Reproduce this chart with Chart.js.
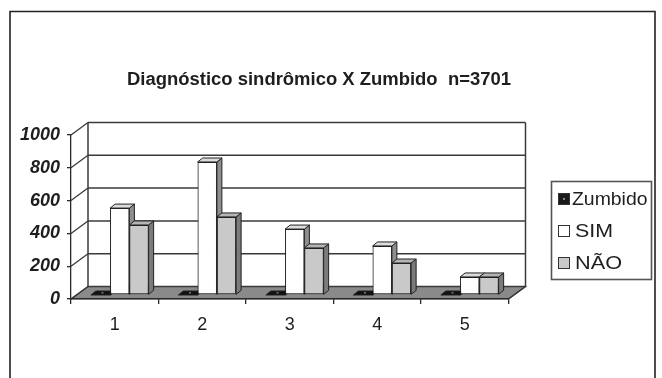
<!DOCTYPE html>
<html>
<head>
<meta charset="utf-8">
<script src="https://cdn.jsdelivr.net/npm/chart.js@4.4.1/dist/chart.umd.min.js"></script>
<style>
html,body{margin:0;padding:0;background:#fff;}
canvas{display:block;}
</style>
</head>
<body>
<canvas id="c" width="662" height="378"></canvas>
<script>
// ---- data ----
const categories = ['1', '2', '3', '4', '5'];
const seriesNames = ['Zumbido', 'SIM', 'NÃO'];
const zumbido = [0, 0, 0, 0, 0];
const sim = [530, 811, 402, 299, 110];
const nao = [427, 476, 287, 195, 110];
const yTicks = [0, 200, 400, 600, 800, 1000];
const titleText = 'Diagnóstico sindrômico X Zumbido  n=3701';

// ---- style ----
const FONT = "'Liberation Sans', Arial, sans-serif";
const LINE = '#2a2a2a';
const WALL_DX = 17, WALL_DY = -12.5;   // depth of the 3D box
const BAR_DX = 5, BAR_DY = -4;         // bar plane offset
const BAR_DEPTH_X = 5, BAR_DEPTH_Y = -4;
const faceColors = [
  {front: '#111', top: '#111', side: '#111'},
  {front: '#ffffff', top: '#dcdcdc', side: '#8e8e8e'},
  {front: '#c9c9c9', top: '#b5b5b5', side: '#7b7b7b'}
];

function poly(ctx, pts, fill, stroke, lw) {
  ctx.beginPath();
  ctx.moveTo(pts[0][0], pts[0][1]);
  for (let i = 1; i < pts.length; i++) ctx.lineTo(pts[i][0], pts[i][1]);
  ctx.closePath();
  if (fill) { ctx.fillStyle = fill; ctx.fill(); }
  if (stroke) { ctx.strokeStyle = stroke; ctx.lineWidth = lw || 1; ctx.stroke(); }
}
function line(ctx, x1, y1, x2, y2, c, w) {
  ctx.beginPath(); ctx.moveTo(x1, y1); ctx.lineTo(x2, y2);
  ctx.strokeStyle = c; ctx.lineWidth = w; ctx.stroke();
}
function fitText(ctx, txt, x, y, font, width, align) {
  ctx.save();
  ctx.font = font;
  const m = ctx.measureText(txt).width;
  const s = width / m;
  ctx.translate(x, y);
  ctx.scale(s, 1);
  ctx.textAlign = align; ctx.textBaseline = 'alphabetic';
  ctx.fillStyle = '#1e1e1e';
  ctx.fillText(txt, 0, 0);
  ctx.restore();
}

const box3d = {
  id: 'box3d',
  beforeDraw(chart) {
    const ctx = chart.ctx, a = chart.chartArea, ys = chart.scales.y;
    ctx.save();
    ctx.fillStyle = '#fff';
    ctx.fillRect(0, 0, chart.width, chart.height);
    // outer frame
    ctx.beginPath();
    ctx.moveTo(10, 380); ctx.lineTo(10, 11.5); ctx.lineTo(655, 11.5); ctx.lineTo(655, 380);
    ctx.strokeStyle = '#222'; ctx.lineWidth = 1.6; ctx.stroke();
    // title
    fitText(ctx, titleText, 319, 84.5, 'bold 18px ' + FONT, 384, 'center');
    // floor
    poly(ctx, [[a.left, a.bottom], [a.right, a.bottom], [a.right + WALL_DX, a.bottom + WALL_DY], [a.left + WALL_DX, a.bottom + WALL_DY]], '#8a8a8a', LINE, 1.2);
    // back wall grid + left wall diagonals
    yTicks.forEach(v => {
      const y = ys.getPixelForValue(v);
      line(ctx, a.left + WALL_DX, y + WALL_DY, a.right + WALL_DX, y + WALL_DY, '#3a3a3a', 1.5);
      line(ctx, a.left, y, a.left + WALL_DX, y + WALL_DY, '#3a3a3a', 1.3);
    });
    line(ctx, a.left + WALL_DX, a.top + WALL_DY, a.left + WALL_DX, a.bottom + WALL_DY, '#3a3a3a', 1.5);
    line(ctx, a.right + WALL_DX, a.top + WALL_DY, a.right + WALL_DX, a.bottom + WALL_DY, '#3a3a3a', 1.5);
    line(ctx, a.right, a.bottom, a.right + WALL_DX, a.bottom + WALL_DY, '#3a3a3a', 1.3);
    // legend
    ctx.fillStyle = '#fff';
    ctx.fillRect(551.5, 181.5, 100, 98);
    ctx.strokeStyle = '#555'; ctx.lineWidth = 1.6;
    ctx.strokeRect(551.5, 181.5, 100, 98);
    const baselines = [205, 237, 269];
    const widths = [75.5, 38, 47];
    chart.data.datasets.forEach((ds, i) => {
      const b = baselines[i];
      ctx.fillStyle = i === 0 ? '#1a1a1a' : ds.backgroundColor;
      ctx.fillRect(558.5, b - 11.5, 11, 11);
      ctx.strokeStyle = '#333'; ctx.lineWidth = 1;
      ctx.strokeRect(558.5, b - 11.5, 11, 11);
      if (i === 0) { ctx.fillStyle = '#888'; ctx.fillRect(563, b - 7, 2, 2); }
      fitText(ctx, ds.label, i === 0 ? 572 : 575, b, '18px ' + FONT, widths[i], 'left');
    });
    ctx.restore();
  },
  beforeDatasetsDraw(chart) {
    chart.ctx.save();
    chart.ctx.translate(BAR_DX, BAR_DY);
  },
  afterDatasetsDraw(chart) {
    const ctx = chart.ctx;
    const metas = chart.data.datasets.map((d, i) => chart.getDatasetMeta(i));
    for (let c = 0; c < categories.length; c++) {
      metas.forEach((meta, d) => {
        const el = meta.data[c];
        const p = el.getProps(['x', 'y', 'base', 'width'], true);
        const l = p.x - p.width / 2, r = p.x + p.width / 2;
        const col = faceColors[d];
        el.draw(ctx);
        // side face
        poly(ctx, [[r, p.y], [r + BAR_DEPTH_X, p.y + BAR_DEPTH_Y], [r + BAR_DEPTH_X, p.base + BAR_DEPTH_Y], [r, p.base]], col.side, '#222', 1);
        // top face
        poly(ctx, [[l, p.y], [r, p.y], [r + BAR_DEPTH_X, p.y + BAR_DEPTH_Y], [l + BAR_DEPTH_X, p.y + BAR_DEPTH_Y]], col.top, '#222', 1);
        if (d === 0) { ctx.fillStyle = '#777'; ctx.fillRect(p.x + 1, p.y - 3, 2, 1.5); }
      });
    }
    ctx.restore();
  }
};

new Chart(document.getElementById('c'), {
  type: 'bar',
  data: {
    labels: categories,
    datasets: [
      {label: seriesNames[0], data: zumbido, backgroundColor: '#111', borderColor: '#111'},
      {label: seriesNames[1], data: sim, backgroundColor: '#ffffff', borderColor: '#222'},
      {label: seriesNames[2], data: nao, backgroundColor: '#c9c9c9', borderColor: '#222'}
    ]
  },
  options: {
    responsive: false,
    animation: false,
    devicePixelRatio: 1,
    layout: {padding: {left: 0, right: 153.5, top: 135, bottom: 0}},
    datasets: {bar: {categoryPercentage: 0.66, barPercentage: 1, borderWidth: 1, borderSkipped: false}},
    plugins: {legend: {display: false}, title: {display: false}, tooltip: {enabled: false}},
    scales: {
      x: {
        grid: {drawOnChartArea: false, offset: true, tickLength: 5, color: LINE, lineWidth: 1.3},
        border: {color: LINE, width: 1.3},
        ticks: {font: {family: FONT, size: 18}, color: '#1e1e1e', padding: 10},
        afterFit: s => { s.height = 79; }
      },
      y: {
        min: 0, max: 1000,
        afterBuildTicks: s => { s.ticks = yTicks.map(v => ({value: v})); },
        grid: {drawOnChartArea: false, tickLength: 4, color: LINE, lineWidth: 1.3},
        border: {color: LINE, width: 1.3},
        ticks: {font: {family: FONT, size: 18, weight: 'bold', style: 'italic'}, color: '#1e1e1e', padding: 7,
                callback: v => String(v)},
        afterFit: s => { s.width = 71; }
      }
    }
  },
  plugins: [box3d]
});
</script>
</body>
</html>
